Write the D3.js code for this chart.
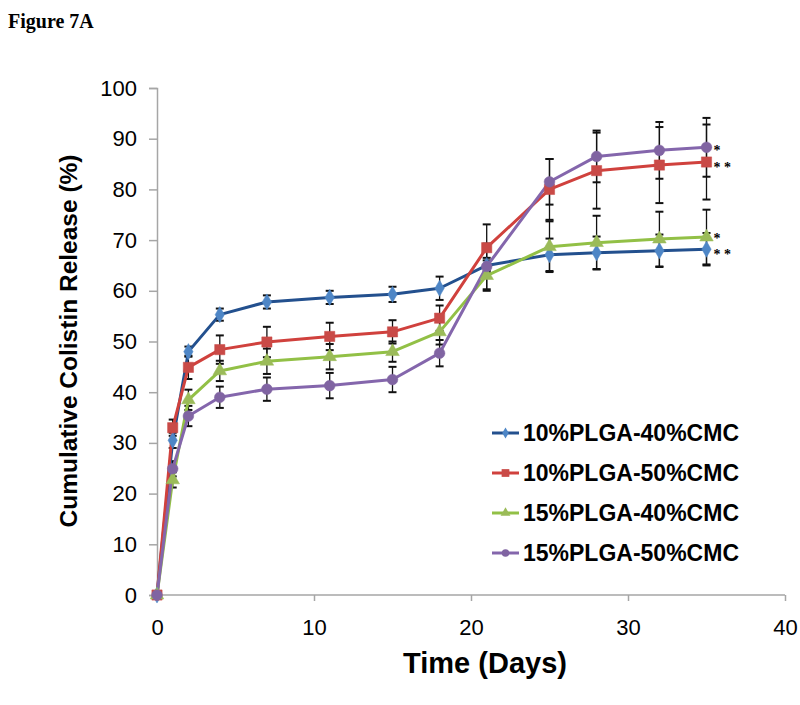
<!DOCTYPE html>
<html><head><meta charset="utf-8">
<script src="https://cdn.jsdelivr.net/npm/d3@7"></script>
<style>body{margin:0;background:#fff}svg{display:block}</style>
</head><body>
<svg id="c" width="800" height="705"></svg>
<script>
const days = [0,1,2,4,7,11,15,18,21,25,28,32,35];
const seriesNames = ["10%PLGA-40%CMC","10%PLGA-50%CMC","15%PLGA-40%CMC","15%PLGA-50%CMC"];
const s1 = [0,30.5,48.0,55.3,57.8,58.7,59.3,60.5,65.0,67.1,67.5,67.9,68.2];
const s1Err = [0,1.5,1.0,1.2,1.3,1.3,1.5,2.3,1.5,3.2,3.2,3.2,3.2];
const s2 = [0,33.0,44.9,48.4,49.9,51.0,51.9,54.6,68.5,80.0,83.7,84.8,85.4];
const s2Err = [0,1.6,2.3,2.8,3.0,2.7,2.3,2.5,4.6,6.0,7.5,7.5,7.4];
const s3 = [0,22.7,38.5,44.2,46.1,47.0,48.0,51.9,63.0,68.7,69.5,70.2,70.6];
const s3Err = [0,1.5,2.0,2.0,2.5,2.5,2.0,2.5,3.0,5.0,5.3,5.4,5.4];
const s4 = [0,24.9,35.3,39.0,40.6,41.3,42.5,47.7,64.8,81.5,86.5,87.7,88.3];
const s4Err = [0,1.5,2.0,2.1,2.3,2.5,2.5,2.6,4.5,4.5,5.1,5.6,5.8];
const sigMarks = ["* *","* *","*","*"];
const xTicks = [0,10,20,30,40];
const yTicks = [0,10,20,30,40,50,60,70,80,90,100];
const title = "Figure 7A";
const xTitle = "Time (Days)";
const yTitle = "Cumulative Colistin Release (%)";

const styles = [
  {line:"#23508E", fill:"#4E86C6", shape:d3.symbolDiamond, size:75, lsize:36},
  {line:"#D0413D", fill:"#C94A47", shape:d3.symbolSquare, size:105, lsize:60},
  {line:"#92C046", fill:"#9BBB59", shape:d3.symbolTriangle, size:80, lsize:42},
  {line:"#8466AC", fill:"#8064A2", shape:d3.symbolCircle, size:90, lsize:45}
];
const vals = [s1,s2,s3,s4], errs = [s1Err,s2Err,s3Err,s4Err];

const svg = d3.select("#c");
const x = d3.scaleLinear().domain([0,40]).range([157,785]);
const y = d3.scaleLinear().domain([0,100]).range([595,88]);
const sans = "'Liberation Sans', Arial, sans-serif";
const serif = "'Liberation Serif', 'Times New Roman', serif";

svg.append("text").attr("x",8).attr("y",28).attr("font-family",serif)
  .attr("font-weight","bold").attr("font-size",20).text(title);

// axes
const yAx = svg.append("g").attr("transform","translate(157,0)")
  .call(d3.axisLeft(y).tickValues(yTicks).tickSize(8).tickPadding(12));
const xAx = svg.append("g").attr("transform","translate(0,595)")
  .call(d3.axisBottom(x).tickValues(xTicks).tickSize(6).tickPadding(18));
[yAx,xAx].forEach(g=>{
  g.select(".domain").attr("stroke","#a6a6a6").attr("stroke-width",1.5);
  g.selectAll(".tick line").attr("stroke","#a6a6a6").attr("stroke-width",1.5);
  g.selectAll(".tick text").attr("font-family",sans).attr("font-size",22).attr("fill","#000");
});
xAx.select(".domain").attr("d","M157,0H785");

svg.append("text").attr("x",485).attr("y",673).attr("text-anchor","middle")
  .attr("font-family",sans).attr("font-weight","bold").attr("font-size",29).text(xTitle);
svg.append("text").attr("transform","translate(77,341) rotate(-90)").attr("text-anchor","middle")
  .attr("font-family",sans).attr("font-weight","bold").attr("font-size",24.5).text(yTitle);

// error bars
const eb = svg.append("g").attr("stroke","#111").attr("stroke-width",1.3);
vals.forEach((v,i)=>{
  days.forEach((d,j)=>{
    const e = errs[i][j]; if(!e) return;
    const cx = x(d);
    eb.append("line").attr("x1",cx).attr("x2",cx).attr("y1",y(v[j]-e)).attr("y2",y(v[j]+e));
    eb.append("line").attr("x1",cx-4).attr("x2",cx+4).attr("y1",y(v[j]-e)).attr("y2",y(v[j]-e)).attr("stroke-width",2);
    eb.append("line").attr("x1",cx-4).attr("x2",cx+4).attr("y1",y(v[j]+e)).attr("y2",y(v[j]+e)).attr("stroke-width",2);
  });
});

const line = d3.line().x(d=>x(d[0])).y(d=>y(d[1]));
vals.forEach((v,i)=>{
  svg.append("path").datum(days.map((d,j)=>[d,v[j]])).attr("d",line)
    .attr("fill","none").attr("stroke",styles[i].line).attr("stroke-width",3).attr("stroke-linejoin","round");
});
vals.forEach((v,i)=>{
  const sym = d3.symbol().type(styles[i].shape).size(styles[i].size);
  svg.append("g").selectAll("path").data(days.map((d,j)=>[d,v[j]])).join("path")
    .attr("d",sym).attr("transform",d=>`translate(${x(d[0])},${y(d[1])})`)
    .attr("fill",styles[i].fill).attr("stroke",styles[i].fill).attr("stroke-width",0.5);
});

// significance marks next to last points
const sigOffset = [2.8,3,-0.6,0.7];
vals.forEach((v,i)=>{
  svg.append("text").attr("x",x(days[days.length-1])+7).attr("y",y(v[v.length-1])+sigOffset[i]+6.5)
    .attr("font-family",serif).attr("font-size",14).attr("font-weight","bold")
    .attr("xml:space","preserve").style("white-space","pre").text(sigMarks[i]);
});

// legend
const lg = svg.append("g");
seriesNames.forEach((n,i)=>{
  const cy = 433 + i*40;
  lg.append("line").attr("x1",492).attr("x2",519).attr("y1",cy).attr("y2",cy)
    .attr("stroke",styles[i].line).attr("stroke-width",3);
  lg.append("path").attr("d",d3.symbol().type(styles[i].shape).size(styles[i].lsize)())
    .attr("transform",`translate(505.5,${cy})`).attr("fill",styles[i].fill);
  lg.append("text").attr("x",523).attr("y",cy).attr("dy","0.36em").attr("font-family",sans)
    .attr("font-weight","bold").attr("font-size",23).text(n);
});
</script>
</body></html>
